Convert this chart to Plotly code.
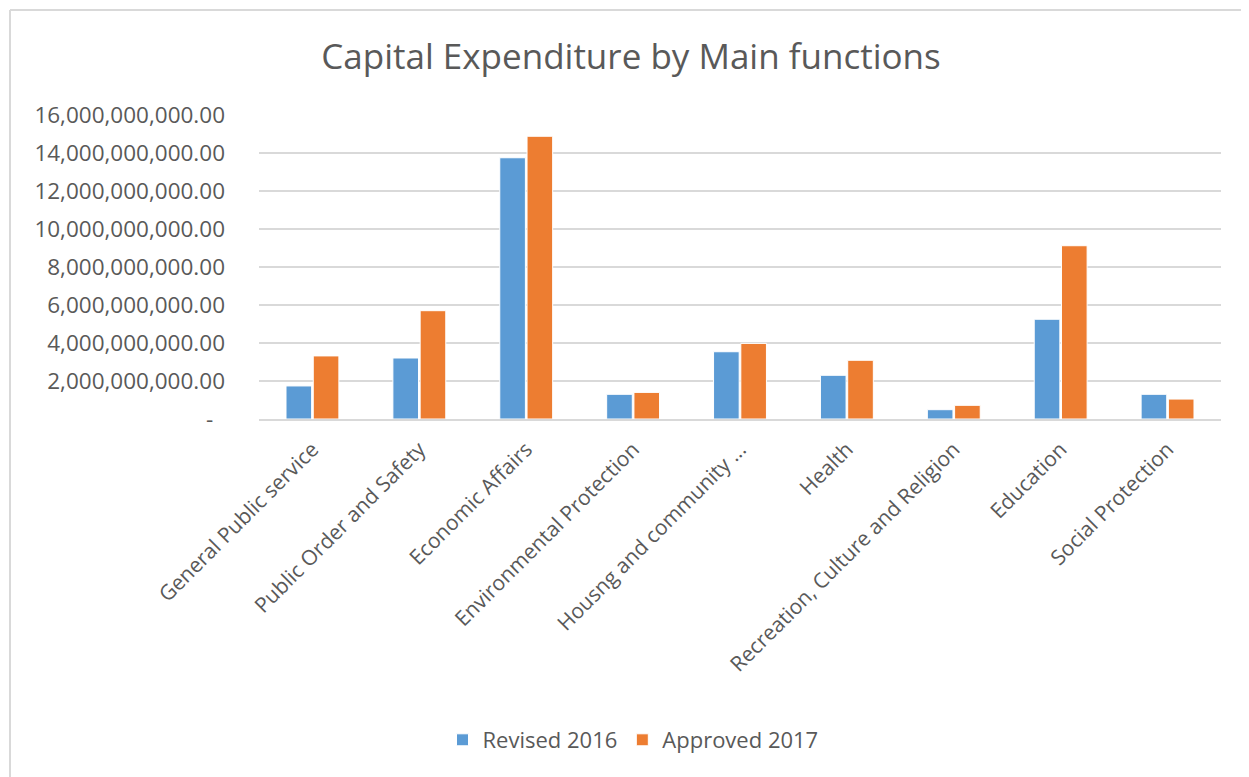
import plotly.graph_objects as go

# capital expenditure by main functions, revised 2016 vs approved 2017

categories = [
    "General Public service",
    "Public Order and Safety",
    "Economic Affairs",
    "Environmental Protection",
    "Housng and community ...",
    "Health",
    "Recreation, Culture and Religion",
    "Education",
    "Social Protection",
]
revised_2016 = [1.74e9, 3.21e9, 13.75e9, 1.30e9, 3.54e9, 2.30e9, 0.49e9, 5.25e9, 1.30e9]
approved_2017 = [3.32e9, 5.70e9, 14.88e9, 1.40e9, 3.98e9, 3.09e9, 0.72e9, 9.12e9, 1.05e9]

y_ticks = [0, 2e9, 4e9, 6e9, 8e9, 10e9, 12e9, 14e9, 16e9]
y_tick_text = ["-\u00a0\u00a0"] + [f"{v:,.2f}" for v in y_ticks[1:]]

font_name = "Open Sans"
grey = "#595959"

fig = go.Figure()
fig.add_trace(go.Bar(x=categories, y=revised_2016, name="Revised 2016",
                     marker=dict(color="#5B9BD5", line=dict(color="white", width=1))))
fig.add_trace(go.Bar(x=categories, y=approved_2017, name="Approved 2017",
                     marker=dict(color="#ED7D31", line=dict(color="white", width=1))))

# page sits 8px in from the window edge, so work in page px and shift
OFF = 8
W, H = 1249 - OFF, 777 - OFF
L, R, T, B = 259 - OFF, 1221 - OFF, 115 - OFF, 419 - OFF
px_x = lambda p: (p - OFF - L) / (R - L)
px_y = lambda p: (B - (p - OFF)) / (B - T)

fig.update_layout(
    width=W, height=H,
    margin=dict(l=L, r=W - R, t=T, b=H - B, pad=0),
    paper_bgcolor="white", plot_bgcolor="white",
    font=dict(family=font_name, color=grey),
    title=dict(text="Capital Expenditure by Main functions", x=(631 - OFF) / W, xanchor="center",
               y=1 - (57 - OFF) / H, yanchor="middle",
               font=dict(size=35, color=grey, family=font_name)),
    barmode="group", bargap=0.49, bargroupgap=0.06,
    showlegend=True,
    legend=dict(orientation="h", x=px_x(633), xanchor="center", y=px_y(740), yanchor="middle",
                font=dict(size=22, color=grey), traceorder="normal"),
    shapes=[
        dict(type="line", xref="paper", yref="paper", x0=px_x(10), x1=px_x(1270),
             y0=px_y(10), y1=px_y(10), line=dict(color="#D9D9D9", width=2)),
        dict(type="line", xref="paper", yref="paper", x0=px_x(10), x1=px_x(10),
             y0=px_y(10), y1=px_y(800), line=dict(color="#D9D9D9", width=2)),
    ],
)
fig.update_xaxes(tickangle=-45, tickfont=dict(size=21, color=grey), showline=True,
                 linecolor="#D9D9D9", linewidth=1.5, ticks="", showgrid=False,
                 ticklabelstandoff=8)
fig.update_yaxes(range=[0, 16e9], tickvals=y_ticks, ticktext=y_tick_text,
                 tickfont=dict(size=22.5, color=grey), gridcolor="#D9D9D9", gridwidth=1.5,
                 zeroline=False, showline=False, ticks="", ticklabelstandoff=33)

fig.write_html("out.html")
